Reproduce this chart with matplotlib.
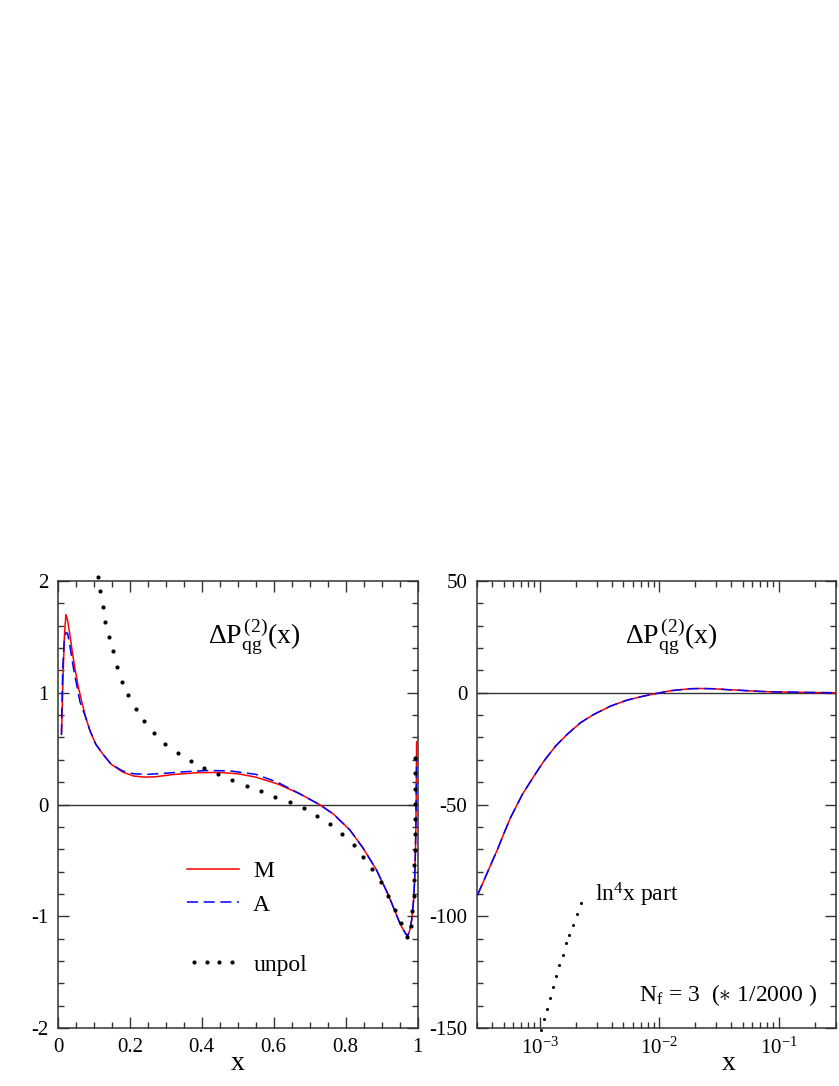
import numpy as np
import matplotlib
matplotlib.use('Agg')
import matplotlib.pyplot as plt
from matplotlib.ticker import MultipleLocator, FuncFormatter, LogLocator, NullFormatter

plt.rcParams['font.family'] = ['Liberation Serif', 'DejaVu Serif']
plt.rcParams['mathtext.fontset'] = 'custom'
plt.rcParams['mathtext.rm'] = 'Liberation Serif'
plt.rcParams['mathtext.it'] = 'Liberation Serif:italic'
plt.rcParams['axes.unicode_minus'] = False
plt.rcParams['lines.scale_dashes'] = False

# --- left panel: Delta P_qg^(2)(x), linear x ---
m_x = [0.010, 0.0125, 0.0148, 0.018, 0.022, 0.026, 0.033, 0.040, 0.047, 0.056,
       0.066, 0.077, 0.089, 0.105, 0.125, 0.148, 0.18, 0.21, 0.24, 0.27,
       0.32, 0.39, 0.45, 0.50, 0.55, 0.61, 0.67, 0.727, 0.766, 0.812,
       0.849, 0.886, 0.919, 0.951, 0.962, 0.972, 0.978, 0.984, 0.989, 0.992,
       0.994, 0.9955, 0.9965, 0.9975]
m_y = [0.64, 0.95, 1.22, 1.52, 1.70, 1.66, 1.52, 1.36, 1.22, 1.06,
       0.92, 0.78, 0.66, 0.54, 0.45, 0.36, 0.29, 0.255, 0.245, 0.248,
       0.268, 0.285, 0.287, 0.275, 0.245, 0.185, 0.10, 0.0, -0.085, -0.228,
       -0.392, -0.586, -0.81, -1.063, -1.13, -1.18, -1.13, -1.03, -0.86, -0.68,
       -0.45, -0.20, 0.10, 0.56]

a_x = [0.0095, 0.011, 0.013, 0.017, 0.022, 0.027, 0.033, 0.043, 0.061, 0.077,
       0.089, 0.105, 0.125, 0.148, 0.18, 0.21, 0.25, 0.30, 0.36, 0.42,
       0.48, 0.55, 0.61, 0.67, 0.727, 0.766, 0.812, 0.849, 0.886, 0.919,
       0.951, 0.962, 0.972, 0.978, 0.984, 0.989, 0.992, 0.994, 0.9955, 0.9965,
       0.9975]
a_y = [0.62, 0.90, 1.20, 1.45, 1.54, 1.53, 1.42, 1.22, 0.92, 0.78,
       0.66, 0.54, 0.45, 0.36, 0.30, 0.275, 0.27, 0.28, 0.295, 0.305,
       0.30, 0.27, 0.20, 0.10, 0.0, -0.085, -0.228, -0.392, -0.586, -0.81,
       -1.063, -1.13, -1.18, -1.13, -1.03, -0.86, -0.68, -0.45, -0.20, 0.10,
       0.42]

unpol_x = [0.111, 0.118, 0.124, 0.132, 0.141, 0.153, 0.164, 0.179, 0.196, 0.216,
           0.239, 0.267, 0.298, 0.333, 0.369, 0.406, 0.445, 0.484, 0.525, 0.566,
           0.605, 0.644, 0.684, 0.721, 0.757, 0.791, 0.822, 0.849, 0.874, 0.898,
           0.919, 0.937, 0.953, 0.972, 0.981, 0.986, 0.989, 0.990, 0.991, 0.992,
           0.992, 0.993, 0.993, 0.994, 0.994, 0.994]
unpol_y = [2.04, 1.91, 1.77, 1.63, 1.50, 1.37, 1.23, 1.10, 0.976, 0.857,
           0.744, 0.640, 0.542, 0.461, 0.390, 0.324, 0.271, 0.217, 0.167, 0.119,
           0.068, 0.021, -0.034, -0.10, -0.177, -0.264, -0.362, -0.467, -0.58, -0.69,
           -0.82, -0.94, -1.063, -1.19, -1.09, -0.95, -0.815, -0.68, -0.54, -0.405,
           -0.265, -0.131, 0.003, 0.143, 0.286, 0.42]

# --- right panel: log x, scaled by 1/2000 ---
r_x = [3.03e-4, 3.908e-4, 4.498e-4, 5.047e-4, 5.728e-4, 7.178e-4, 8.974e-4,
       1.086e-3, 1.358e-3, 1.702e-3, 2.198e-3, 2.838e-3, 3.908e-3, 5.383e-3,
       7.396e-3, 9.572e-3, 1.236e-2, 1.811e-2, 2.239e-2, 2.838e-2, 3.664e-2,
       4.732e-2, 6.95e-2, 8.97e-2, 0.170, 0.298]
r_y = [-90.5, -77.0, -69.5, -62.8, -55.8, -45.5, -37.3,
       -30.6, -23.9, -18.6, -13.4, -9.7, -6.0, -3.3,
       -1.5, -0.3, 0.9, 1.8, 1.9, 1.8, 1.4,
       1.1, 0.6, 0.4, 0.15, 0.0]

ln4_x = [1.019e-3, 1.086e-3, 1.143e-3, 1.211e-3, 1.291e-3, 1.368e-3, 1.459e-3,
         1.556e-3, 1.656e-3, 1.766e-3, 1.897e-3, 2.046e-3, 2.208e-3]
ln4_y = [-151, -146, -141.3, -136.5, -131.6, -126.7, -122.0,
         -117.3, -112.1, -108.3, -103.7, -98.9, -94.2]

frame_col = '#333333'
red = '#ff0000'
blue = '#0000ff'
title = r'$\Delta\mathrm{P}_{\mathrm{qg}}^{\,(2)}(\mathrm{x})$'

fig = plt.figure(figsize=(8.39, 10.86), dpi=100)
W, H = 839.0, 1086.0
ax1 = fig.add_axes([58 / W, (H - 1028) / H, 359.5 / W, 447 / H])
ax2 = fig.add_axes([477 / W, (H - 1028) / H, 359 / W, 447 / H])

fmt = FuncFormatter(lambda v, p: '%g' % v)

for ax in (ax1, ax2):
    for s in ax.spines.values():
        s.set_color(frame_col)
        s.set_linewidth(1.1)
    ax.tick_params(which='both', direction='in', top=True, right=True,
                   color=frame_col, labelsize=15, width=1.0)
    ax.tick_params(which='major', length=8, pad=7)
    ax.tick_params(which='minor', length=4)
    ax.axhline(0, color=frame_col, lw=1.0, zorder=1)

# left
ax1.plot(m_x, m_y, color=red, lw=1.1, label='M', zorder=3)
ax1.plot(a_x, a_y, color=blue, lw=1.1, dashes=(8, 4), label='A', zorder=4)
pu, = ax1.plot(unpol_x, unpol_y, ls='none', marker='o', ms=3, color='k',
               mec='none', clip_on=False, label='unpol', zorder=5)
ax1.set_xlim(0, 1)
ax1.set_ylim(-2, 2)
ax1.xaxis.set_major_locator(MultipleLocator(0.2))
ax1.xaxis.set_minor_locator(MultipleLocator(0.05))
ax1.yaxis.set_major_locator(MultipleLocator(1))
ax1.yaxis.set_minor_locator(MultipleLocator(0.2))
ax1.xaxis.set_major_formatter(fmt)
ax1.yaxis.set_major_formatter(fmt)
ax1.set_xlabel('x', fontsize=20)
ax1.xaxis.set_label_coords(0.5, -0.08)
ax1.xaxis.label.set_va('center')
ax1.text(0.545, 0.876, title, transform=ax1.transAxes, fontsize=20,
         ha='center', va='center')

h = ax1.get_legend_handles_labels()[0]
leg1 = ax1.legend(h[:2], ['M', 'A'], loc='center left', bbox_to_anchor=(0.359, 0.313),
                  frameon=False, fontsize=17, handlelength=2.2, handletextpad=0.6,
                  borderpad=0, borderaxespad=0, labelspacing=0.5)
ax1.add_artist(leg1)
ax1.legend([pu], ['unpol'], loc='center left', bbox_to_anchor=(0.359, 0.141),
           frameon=False, fontsize=17, handlelength=2.2, handletextpad=0.6,
           borderpad=0, borderaxespad=0, numpoints=4)

# right
ax2.set_xscale('log')
ax2.plot(r_x, r_y, color=red, lw=1.1, zorder=3)
ax2.plot(r_x, r_y, color=blue, lw=1.1, dashes=(8, 4), zorder=4)
ax2.plot(ln4_x, ln4_y, ls='none', marker='o', ms=2.2, color='k', mec='none',
         clip_on=False, zorder=5)
ax2.set_xlim(3.0e-4, 0.3)
ax2.set_ylim(-150, 50)
ax2.xaxis.set_major_locator(LogLocator(base=10, numticks=10))
ax2.xaxis.set_minor_locator(LogLocator(base=10, subs=np.arange(2, 10), numticks=20))
ax2.xaxis.set_minor_formatter(NullFormatter())
ax2.yaxis.set_major_locator(MultipleLocator(50))
ax2.yaxis.set_minor_locator(MultipleLocator(10))
ax2.yaxis.set_major_formatter(fmt)
ax2.set_xlabel('x', fontsize=20)
ax2.xaxis.set_label_coords(0.70, -0.08)
ax2.xaxis.label.set_va('center')
ax2.text(0.542, 0.876, title, transform=ax2.transAxes, fontsize=20,
         ha='center', va='center')
ax2.text(0.329, 0.298, r'ln$^{4}$x part', transform=ax2.transAxes, fontsize=17,
         ha='left', va='center')
ax2.text(0.947, 0.074, r'N$_{\mathrm{f}}$ = 3  ($\ast$ 1/2000 )', transform=ax2.transAxes,
         fontsize=17, ha='right', va='center')

fig.savefig('out.png', dpi=100)
